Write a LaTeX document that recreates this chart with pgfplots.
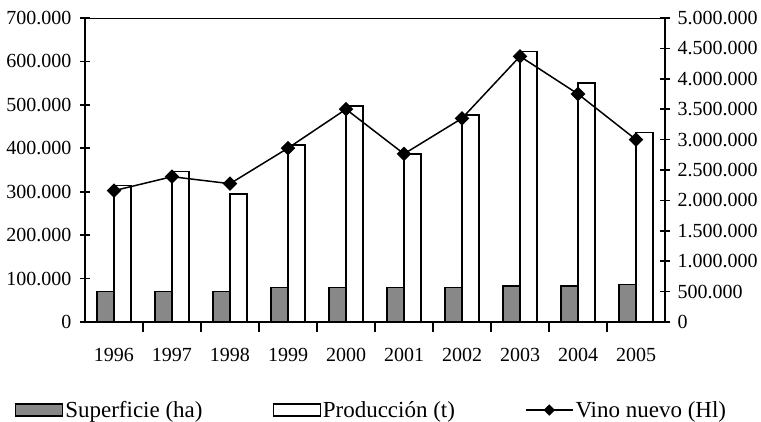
\documentclass[border=0pt]{standalone}
\usepackage{fontspec}
\setmainfont{Liberation Serif}
\usepackage{pgfplots}
\pgfplotsset{compat=1.18}
\definecolor{bargray}{HTML}{888888}
\pgfplotsset{
  common/.style={
    scale only axis, width=580pt, height=304pt,
    xmin=-0.5, xmax=9.5,
    ymin=0,
    scaled y ticks=false,
    tick label style={font=\fontsize{20}{22}\selectfont},
    tick align=center,
    major tick length=10pt, minor tick length=10pt,
    every tick/.style={black, line width=1.6pt},
  },
  barlegend/.style={legend image code/.code={\draw[##1] (0pt,-6pt) rectangle (47pt,6pt);}},
  linelegend/.style={legend image code/.code={\draw[##1, mark size=3.3pt, mark repeat=2, mark phase=2] plot coordinates {(0pt,0pt) (23.5pt,0pt) (47pt,0pt)};}},
}
\begin{document}
\begin{tikzpicture}
\begin{axis}[common,
  ymax=700000, ytick={0,100000,200000,300000,400000,500000,600000,700000},
  yticklabels={0,100.000,200.000,300.000,400.000,500.000,600.000,700.000},
  axis y line*=left, axis x line*=bottom,
  axis line style={line width=2pt},
  xtick={0,1,2,3,4,5,6,7,8,9},
  xticklabels={1996,1997,1998,1999,2000,2001,2002,2003,2004,2005},
  major x tick style={draw=none},
  minor xtick={0.5,1.5,2.5,3.5,4.5,5.5,6.5,7.5,8.5},
  xticklabel style={yshift=-13pt},
  yticklabel style={xshift=-5pt},
  ybar, bar width=17pt,
]
\addplot[fill=bargray, draw=black, line width=1.6pt, bar shift=-8.5pt] coordinates {
(0,70500) (1,70500) (2,70500) (3,79000) (4,79000) (5,79000) (6,79000) (7,83000) (8,83000) (9,86500)};
\addplot[fill=white, draw=black, line width=1.6pt, bar shift=8.5pt] coordinates {
(0,314000) (1,347000) (2,295000) (3,408000) (4,498000) (5,387000) (6,477000) (7,623000) (8,550000) (9,436000)};
\end{axis}
\begin{axis}[common,
  ymax=5000000, ytick={0,500000,1000000,1500000,2000000,2500000,3000000,3500000,4000000,4500000,5000000},
  yticklabels={0,500.000,1.000.000,1.500.000,2.000.000,2.500.000,3.000.000,3.500.000,4.000.000,4.500.000,5.000.000},
  axis y line*=right, axis x line*=top,
  y axis line style={line width=2pt},
  x axis line style={line width=0.8pt},
  xtick=\empty,
  yticklabel style={xshift=4pt},
  legend columns=3,
  legend style={draw=none, fill=none, at={(axis description cs:-0.126,-0.2895)}, anchor=west,
    font=\fontsize{23}{26}\selectfont,
    /tikz/every even column/.append style={column sep=68pt},
    nodes={inner sep=2pt}},
]
\addlegendimage{barlegend, fill=bargray, draw=black, line width=1.2pt}
\addlegendentry{Superficie (ha)}
\addlegendimage{barlegend, fill=white, draw=black, line width=1.2pt}
\addlegendentry{Producción (t)}
\addplot[linelegend, black, line width=1.5pt, mark=square*, mark options={rotate=45, solid}, mark size=4.4pt]
coordinates {
(0,2160000) (1,2390000) (2,2275000) (3,2860000) (4,3500000) (5,2765000) (6,3350000) (7,4370000) (8,3750000) (9,3000000)};
\addlegendentry{Vino nuevo (Hl)}
\end{axis}
\pgfresetboundingbox
\useasboundingbox (-85pt,-99pt) rectangle (676pt,322pt);
\end{tikzpicture}
\end{document}
